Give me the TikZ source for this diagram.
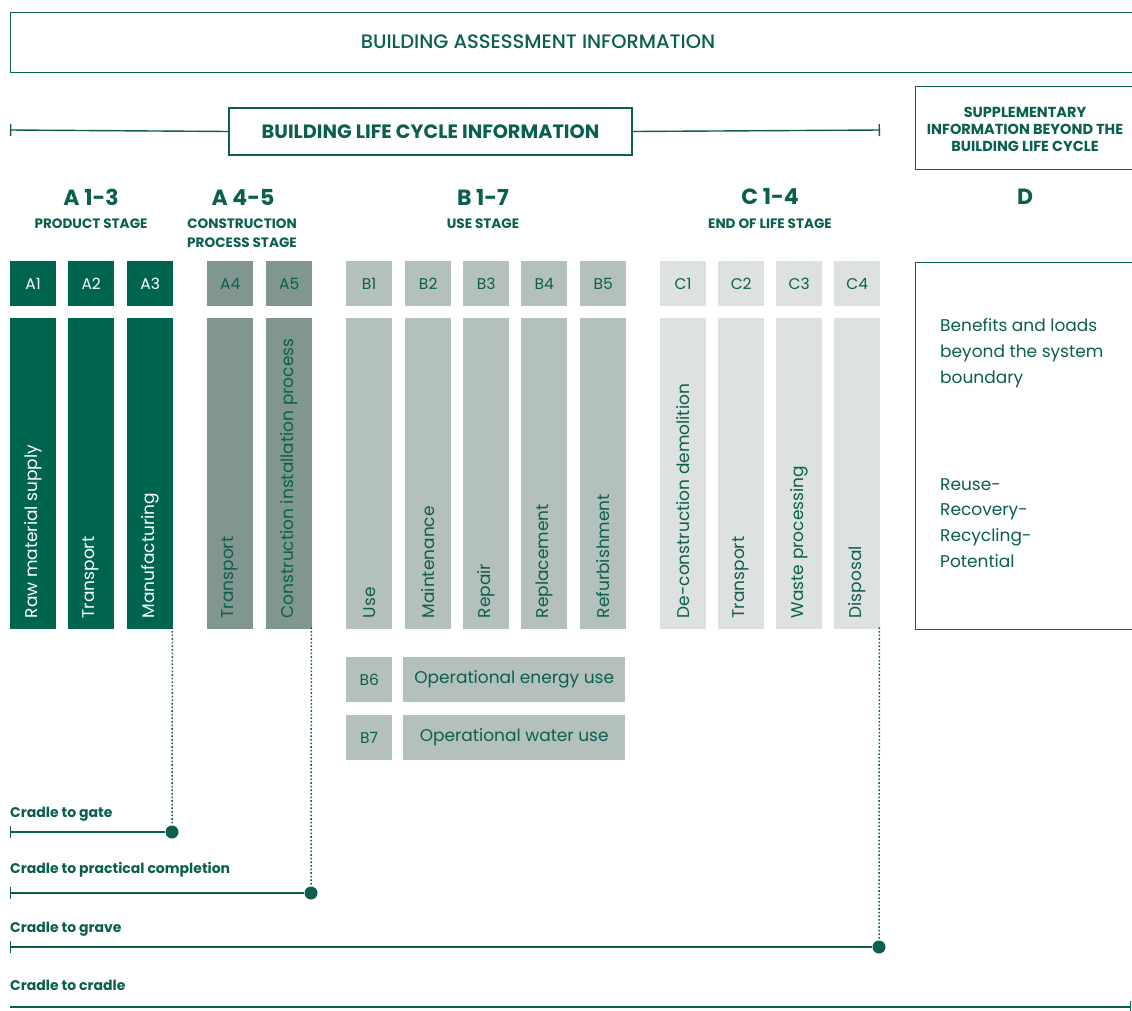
\documentclass[tikz,border=0pt]{standalone}
\usepackage{fontspec}
\setmainfont{Poppins}
\IfFontExistsTF{Poppins Medium}{\newfontfamily\medfont{Poppins Medium}}{\newfontfamily\medfont[FakeBold=0.6]{Poppins}}
\usetikzlibrary{arrows.meta}
\definecolor{dg}{HTML}{0A5F4F}
\definecolor{afill}{HTML}{00654F}
\definecolor{a2fill}{HTML}{80968E}
\definecolor{bfill}{HTML}{B4C0BB}
\definecolor{cfill}{HTML}{DDE1E0}
\begin{document}
\begin{tikzpicture}[x=1pt,y=-1pt,
  frame/.style={draw=dg, line width=1.4pt},
  sq/.style={minimum width=46pt, minimum height=45pt, inner sep=0pt, anchor=north west, font=\fontsize{15.5}{18}\selectfont},
  tall/.style={minimum width=46pt, minimum height=311pt, inner sep=0pt, anchor=north west},
  rot/.style={rotate=90, anchor=west, inner sep=0pt, font=\fontsize{17}{18}\selectfont},
  stagehead/.style={font=\bfseries\fontsize{22}{26}\selectfont, text=dg, inner sep=0pt},
  stagesub/.style={font=\bfseries\fontsize{13.6}{18.5}\selectfont, text=dg, inner sep=0pt, align=center},
  cradle/.style={font=\bfseries\fontsize{14}{17}\selectfont, text=dg, inner sep=0pt, anchor=west},
  cline/.style={draw=dg, line width=1.4pt, {Bar[width=12pt,line width=1.4pt]}-},
  dot/.style={circle, fill=dg, minimum size=13pt, inner sep=0pt},
  dotline/.style={draw=dg, line width=1.5pt, dash pattern=on 1.6pt off 2pt},
  Abox/.style={fill=afill, text=white},
  A2box/.style={fill=a2fill, text=dg},
  Bbox/.style={fill=bfill, text=dg},
  Cbox/.style={fill=cfill, text=dg}
]
\useasboundingbox (0,0) rectangle (1132,1010);
\fill[white] (0,0) rectangle (1132,1010);

% top frame
\node[frame, minimum width=1140pt, minimum height=60pt, anchor=north west, inner sep=0pt] (bai) at (10,12) {};
\node[font=\medfont\fontsize{19.5}{22}\selectfont, text=dg] (baitxt) at (538,42) {BUILDING ASSESSMENT INFORMATION};

% life cycle information
\coordinate (lcl) at (10,130);
\coordinate (lcr) at (880,130);
\node[frame, fill=white, minimum width=403pt, minimum height=47pt, inner sep=0pt, font=\bfseries\fontsize{19.3}{22}\selectfont, text=dg] (lci) at (430.5,131.5) {BUILDING LIFE CYCLE INFORMATION};
\draw[dg, line width=1.4pt, {Bar[width=12pt,line width=1.4pt]}-] (lcl) -- (lci.west);
\draw[dg, line width=1.4pt, -{Bar[width=12pt,line width=1.4pt]}] (lci.east) -- (lcr);

% supplementary
\node[frame, minimum width=230pt, minimum height=83pt, anchor=north west, inner sep=0pt] (sup) at (915,86) {};
\node[font=\bfseries\fontsize{14.5}{17}\selectfont, text=dg, align=center] (suptxt) at (1025,129) {SUPPLEMENTARY\\INFORMATION BEYOND THE\\BUILDING LIFE CYCLE};

% stage headers
\node[stagehead] (hA13) at (91,197) {A 1-3};
\node[stagesub] (sA13) at (91,224) {PRODUCT STAGE};
\node[stagehead] (hA45) at (243,197) {A 4-5};
\node[stagesub] (sA45) at (242,233) {CONSTRUCTION\\PROCESS STAGE};
\node[stagehead] (hB17) at (483,197) {B 1-7};
\node[stagesub] (sB17) at (483,224) {USE STAGE};
\node[stagehead] (hC14) at (770,197) {C 1-4};
\node[stagesub] (sC14) at (770,224) {END OF LIFE STAGE};
\node[stagehead] (hD) at (1025,197) {D};

% small boxes and tall boxes
\foreach \nm/\x/\st/\lab in {A1/10/Abox/Raw material supply, A2/68/Abox/Transport, A3/127/Abox/Manufacturing,
  A4/207/A2box/Transport, A5/266/A2box/Construction installation process,
  B1/346/Bbox/Use, B2/405/Bbox/Maintenance, B3/463/Bbox/Repair, B4/521/Bbox/Replacement, B5/580/Bbox/Refurbishment,
  C1/660/Cbox/De-construction demolition, C2/718/Cbox/Transport, C3/776/Cbox/Waste processing, C4/834/Cbox/Disposal}{
  \node[sq, \st] (s\nm) at (\x,261) {\nm};
  \node[tall, \st] (t\nm) at (\x,318) {};
  \node[rot, \st, fill=none] (l\nm) at ([yshift=11pt]t\nm.south) {\lab};
}

% B6 / B7
\node[sq, Bbox] (sB6) at (346,657) {B6};
\node[sq, Bbox, minimum width=222pt, anchor=north west, font=\fontsize{17}{20}\selectfont] (eB6) at (403,657) {Operational energy use};
\node[sq, Bbox] (sB7) at (346,715) {B7};
\node[sq, Bbox, minimum width=222pt, anchor=north west, font=\fontsize{17}{20}\selectfont] (eB7) at (403,715) {Operational water use};

% D box
\node[frame, minimum width=230pt, minimum height=367pt, anchor=north west, inner sep=0pt] (dbox) at (915,262) {};
\node[anchor=north west, inner sep=0pt, text=dg, align=left, font=\fontsize{17}{26}\selectfont] (d1) at (940,318) {Benefits and loads\\beyond the system\\boundary};
\node[anchor=north west, inner sep=0pt, text=dg, align=left, font=\fontsize{17}{25.7}\selectfont] (d2) at (940,478) {Reuse-\\Recovery-\\Recycling-\\Potential};

% cradle lines
\node[cradle] (c1) at (10,814) {Cradle to gate};
\coordinate (c1s) at (10,832);
\node[dot] (g1) at (172,832) {};
\draw[cline] (c1s) -- (g1);
\draw[dotline] (tA3.south east) ++(-1pt,2pt) -- (g1.north);

\node[cradle] (c2) at (10,870) {Cradle to practical completion};
\coordinate (c2s) at (10,893);
\node[dot] (g2) at (311,893) {};
\draw[cline] (c2s) -- (g2);
\draw[dotline] (tA5.south east) ++(-1pt,2pt) -- (g2.north);

\node[cradle] (c3) at (10,929) {Cradle to grave};
\coordinate (c3s) at (10,947);
\node[dot] (g3) at (879,947) {};
\draw[cline] (c3s) -- (g3);
\draw[dotline] (tC4.south east) ++(-1pt,2pt) -- (g3.north);

\node[cradle] (c4) at (10,985) {Cradle to cradle};
\coordinate (c4s) at (10,1007);
\coordinate (c4e) at (1131,1007);
\draw[cline, -{Bar[width=12pt,line width=1.4pt]}] (c4s) -- (c4e);
\end{tikzpicture}
\end{document}
